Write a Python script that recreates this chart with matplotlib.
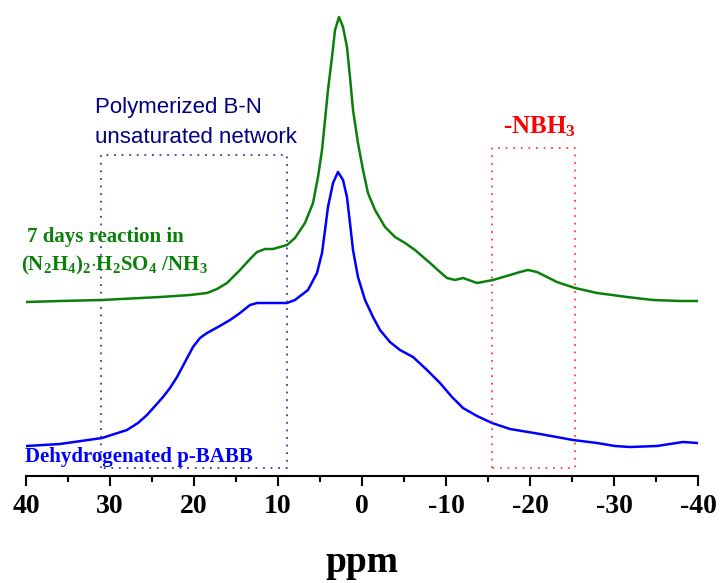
import matplotlib
matplotlib.use("Agg")
import matplotlib.pyplot as plt
from matplotlib.ticker import MultipleLocator

# Data (ppm, intensity in arbitrary units)
green_ppm = [39.88, 35.95, 30.95, 24.05, 20.48, 18.45, 17.26, 16.07, 14.52, 13.33,
             12.5, 11.55, 10.6, 8.93, 7.98, 6.79, 5.83, 5.24, 4.76, 4.40, 4.05,
             3.57, 3.21, 2.74, 2.26, 1.79, 1.43, 1.07, 0.48, -0.12, -0.71, -1.55,
             -2.74, -3.93, -5.12, -6.31, -8.1, -9.29, -10.12, -11.07, -12.02,
             -13.69, -15.6, -17.62, -18.81, -19.76, -20.83, -22.02, -23.21,
             -25.36, -27.98, -31.55, -34.64, -37.86, -40.0]
green_int = [174, 175, 176, 179, 181, 183, 187, 193, 206, 217,
             224, 227, 227, 231, 238, 253, 273, 299, 326, 356, 386,
             419, 446, 459, 449, 429, 399, 366, 333, 306, 283, 266,
             249, 239, 233, 226, 213, 204, 198, 196, 198,
             193, 196, 201, 204, 206, 204, 199, 194,
             188, 183, 179, 176, 175, 175]

blue_ppm = [39.88, 35.95, 30.95, 27.98, 26.67, 25.6, 24.64, 23.69, 22.86, 22.02,
            21.07, 20.12, 19.29, 18.45, 17.14, 15.71, 14.52, 13.33, 12.5, 8.93,
            7.98, 6.43, 5.36, 4.76, 4.40, 4.05, 3.45, 2.86, 2.26, 1.79, 1.43,
            1.07, 0.48, -0.36, -1.31, -2.14, -3.33, -4.52, -6.07, -7.74, -9.29,
            -10.71, -12.02, -13.69, -15.48, -17.62, -21.19, -25.12, -27.98,
            -30.12, -31.9, -35.12, -38.21, -40.0]
blue_int = [30, 32, 38, 46, 53, 61, 70, 79, 88, 99,
            114, 129, 138, 143, 149, 156, 163, 171, 173, 173,
            176, 186, 203, 223, 246, 269, 293, 304, 296, 279, 253,
            226, 199, 176, 159, 146, 134, 126, 119, 106, 93,
            79, 68, 60, 53, 47, 42, 36, 33,
            30, 29, 30, 34, 33]

# Highlight boxes: (ppm_left, ppm_right, int_bottom, int_top)
bn_box = (31.1, 8.9, 8, 321)
nbh_box = (-15.5, -25.4, 8, 328)

plt.rcParams['font.family'] = 'Liberation Serif'
plt.rcParams['font.weight'] = 'bold'
plt.rcParams['axes.unicode_minus'] = False
plt.rcParams['mathtext.fontset'] = 'custom'
plt.rcParams['mathtext.rm'] = 'Liberation Serif:bold'
plt.rcParams['mathtext.bf'] = 'Liberation Serif:bold'
plt.rcParams['mathtext.it'] = 'Liberation Serif:bold'

fig = plt.figure(figsize=(7.21, 5.83), dpi=100)
ax = fig.add_axes([26/721, 107/583, 672/721, 466/583])

ax.plot(green_ppm, green_int, color='#0a800a', lw=1.8, solid_joinstyle='round')
ax.plot(blue_ppm, blue_int, color='#0000ff', lw=1.8, solid_joinstyle='round')

for box, col in [(bn_box, '#3a3a9a'), (nbh_box, '#ff4040')]:
    x0, x1, y0, y1 = box
    ax.plot([x0, x0, x1, x1, x0], [y0, y1, y1, y0, y0], color=col,
            lw=1.3, linestyle=(0, (1, 3.2)))

ax.set_xlim(40, -40)
ax.set_ylim(0, 466)
ax.xaxis.set_major_locator(MultipleLocator(10))
ax.xaxis.set_minor_locator(MultipleLocator(5))
ax.tick_params(axis='x', which='major', length=7, width=1.5, labelsize=20, pad=6)
ax.tick_params(axis='x', which='minor', length=4.5, width=1.5)
ax.set_yticks([])
for s in ['left', 'right', 'top']:
    ax.spines[s].set_visible(False)
ax.spines['bottom'].set_linewidth(1.5)

ax.set_xlabel('ppm', fontsize=27, fontweight='bold', labelpad=19)

ax.text(31.8, 363, 'Polymerized B-N', family='Liberation Sans', fontweight='normal',
        fontsize=16, color='#000080')
ax.text(31.8, 333, 'unsaturated network', family='Liberation Sans', fontweight='normal',
        fontsize=16, color='#000080')
ax.text(39.9, 234, '7 days reaction in', fontsize=15, color='#0a800a')
ax.text(40.6, 206, r'$\mathbf{(N_2H_4)_2{\cdot}H_2SO_4\ /NH_3}$', fontsize=15, color='#0a800a')
ax.text(40.1, 14, 'Dehydrogenated p-BABB', fontsize=15, color='#0000ff')
ax.text(-16.8, 343, r'-NBH$_3$', fontsize=18, color='#ff0000')

fig.savefig('out.png', dpi=100)
